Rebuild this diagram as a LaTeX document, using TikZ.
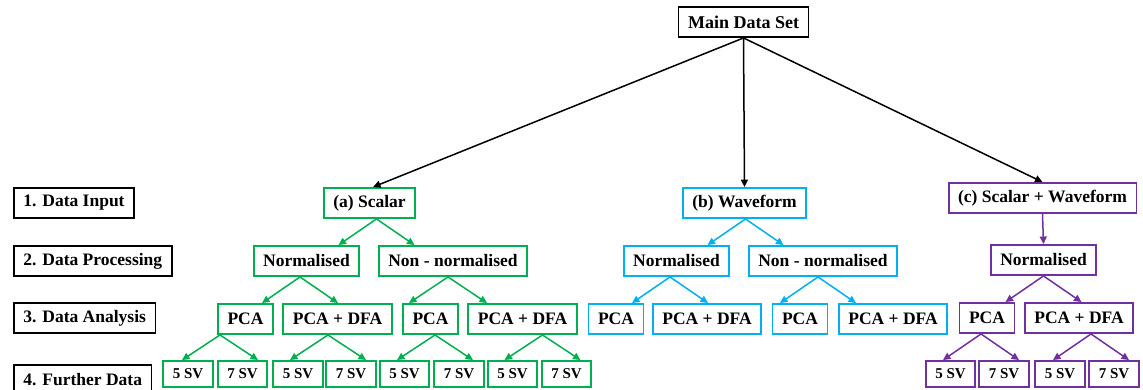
\documentclass[tikz,border=0pt]{standalone}
\usepackage{fontspec}
\setmainfont{Liberation Serif}
\usetikzlibrary{arrows.meta}

\definecolor{scalar_green}{HTML}{00B050}
\definecolor{wave_blue}{HTML}{00B0F0}
\definecolor{mixed_purple}{HTML}{7030A0}

\begin{document}
\begin{tikzpicture}[x=1pt, y=-1pt, % positions are given in pt, y grows downwards
square/.style={rectangle, draw=black, fill=white, line width=1.9pt, inner xsep=9.5pt, inner ysep=2pt, minimum height=30pt, font=\fontsize{17.5}{20}\selectfont\bfseries},
small_square/.style={square, minimum height=26pt, font=\fontsize{15}{18}\selectfont\bfseries},
label_square/.style={square, anchor=west},
a_square/.style={square, draw=scalar_green},
b_square/.style={square, draw=wave_blue},
c_square/.style={square, draw=mixed_purple},
a_small/.style={small_square, draw=scalar_green},
c_small/.style={small_square, draw=mixed_purple},
out_arrow/.style={-{Triangle[length=7.5pt,width=7pt]}, line width=1.5pt},
a_arrow/.style={out_arrow, draw=scalar_green, fill=scalar_green},
b_arrow/.style={out_arrow, draw=wave_blue, fill=wave_blue},
c_arrow/.style={out_arrow, draw=mixed_purple, fill=mixed_purple}
]

\useasboundingbox (0,0) rectangle (1143,389);

\node[square, font=\fontsize{18}{21}\selectfont\bfseries](main_data) at (743.5,22) {Main Data Set};

\node[label_square](input_label) at (13,203) {1. Data Input};
\node[label_square](processing_label) at (13,261) {2. Data Processing};
\node[label_square](analysis_label) at (13,318) {3. Data Analysis};
\node[label_square](further_label) at (13,380) {4. Further Data};

% (a) scalar branch
\node[a_square](scalar) at (369.5,203) {(a) Scalar};
\node[a_square](a_norm) at (306.5,261) {Normalised};
\node[a_square](a_non) at (453,261) {Non - normalised};
\node[a_square](a_norm_pca) at (245.5,319) {PCA};
\node[a_square](a_norm_dfa) at (337.5,319) {PCA + DFA};
\node[a_square](a_non_pca) at (430.5,319) {PCA};
\node[a_square](a_non_dfa) at (522.5,319) {PCA + DFA};
\node[a_small](a_norm_pca_5) at (188,374) {5 SV};
\node[a_small](a_norm_pca_7) at (242.5,374) {7 SV};
\node[a_small](a_norm_dfa_5) at (298,374) {5 SV};
\node[a_small](a_norm_dfa_7) at (351,374) {7 SV};
\node[a_small](a_non_pca_5) at (404.5,374) {5 SV};
\node[a_small](a_non_pca_7) at (459,374) {7 SV};
\node[a_small](a_non_dfa_5) at (512.5,374) {5 SV};
\node[a_small](a_non_dfa_7) at (566.5,374) {7 SV};

% (b) waveform branch
\node[b_square](waveform) at (744.5,203) {(b) Waveform};
\node[b_square](b_norm) at (676.5,261) {Normalised};
\node[b_square](b_non) at (823,261) {Non - normalised};
\node[b_square](b_norm_pca) at (616,319) {PCA};
\node[b_square](b_norm_dfa) at (707,319) {PCA + DFA};
\node[b_square](b_non_pca) at (800,319) {PCA};
\node[b_square](b_non_dfa) at (893,319) {PCA + DFA};

% (c) scalar + waveform branch
\node[c_square](mixed) at (1042.5,198) {(c) Scalar + Waveform};
\node[c_square](c_norm) at (1043.5,260) {Normalised};
\node[c_square](c_pca) at (987,318) {PCA};
\node[c_square](c_dfa) at (1079,318) {PCA + DFA};
\node[c_small](c_pca_5) at (950.5,374) {5 SV};
\node[c_small](c_pca_7) at (1004,374) {7 SV};
\node[c_small](c_dfa_5) at (1060,374) {5 SV};
\node[c_small](c_dfa_7) at (1114,374) {7 SV};



\draw[out_arrow, fill=black](main_data.south) to [] ([xshift=3.5pt]scalar.north);
\draw[out_arrow, fill=black](main_data.south) to [] (waveform.north);
\draw[out_arrow, fill=black](main_data.south) to [] (mixed.north);

\draw[a_arrow]([xshift=7pt]scalar.south) to [] ([xshift=32pt]a_norm.north);
\draw[a_arrow]([xshift=7pt]scalar.south) to [] ([xshift=-38.5pt]a_non.north);
\draw[a_arrow]([xshift=-6.5pt]a_norm.south) to [] ([xshift=16.5pt]a_norm_pca.north);
\draw[a_arrow]([xshift=-6.5pt]a_norm.south) to [] ([xshift=0.5pt]a_norm_dfa.north);
\draw[a_arrow]([xshift=-5pt]a_non.south) to [] ([xshift=-21.5pt]a_non_pca.north);
\draw[a_arrow]([xshift=-5pt]a_non.south) to [] ([xshift=-35.5pt]a_non_dfa.north);
\draw[a_arrow]([xshift=-25.5pt]a_norm_pca.south) to [] ([xshift=-6pt]a_norm_pca_5.north);
\draw[a_arrow]([xshift=-25.5pt]a_norm_pca.south) to [] ([xshift=15.5pt]a_norm_pca_7.north);
\draw[a_arrow]([xshift=-9.5pt]a_norm_dfa.south) to [] ([xshift=-8pt]a_norm_dfa_5.north);
\draw[a_arrow]([xshift=-9.5pt]a_norm_dfa.south) to [] ([xshift=15pt]a_norm_dfa_7.north);
\draw[a_arrow]([xshift=4.5pt]a_non_pca.south) to [] ([xshift=-7.5pt]a_non_pca_5.north);
\draw[a_arrow]([xshift=4.5pt]a_non_pca.south) to [] ([xshift=14pt]a_non_pca_7.north);
\draw[a_arrow]([xshift=20pt]a_non_dfa.south) to [] ([xshift=-8pt]a_non_dfa_5.north);
\draw[a_arrow]([xshift=20pt]a_non_dfa.south) to [] ([xshift=14pt]a_non_dfa_7.north);

\draw[b_arrow]([xshift=1pt]waveform.south) to [] ([xshift=31pt]b_norm.north);
\draw[b_arrow]([xshift=1pt]waveform.south) to [] ([xshift=-39.5pt]b_non.north);
\draw[b_arrow]([xshift=-6.5pt]b_norm.south) to [] ([xshift=16pt]b_norm_pca.north);
\draw[b_arrow]([xshift=-6.5pt]b_norm.south) to [] ([xshift=1pt]b_norm_dfa.north);
\draw[b_arrow]([xshift=-5pt]b_non.south) to [] ([xshift=-20pt]b_non_pca.north);
\draw[b_arrow]([xshift=-5pt]b_non.south) to [] ([xshift=-37pt]b_non_dfa.north);

\draw[c_arrow](mixed.south) to [] (c_norm.north);
\draw[c_arrow](c_norm.south) to [] ([xshift=18.5pt]c_pca.north);
\draw[c_arrow](c_norm.south) to [] ([xshift=2.5pt]c_dfa.north);
\draw[c_arrow]([xshift=-6pt]c_pca.south) to [] ([xshift=-7.5pt]c_pca_5.north);
\draw[c_arrow]([xshift=-6pt]c_pca.south) to [] ([xshift=15pt]c_pca_7.north);
\draw[c_arrow]([xshift=12pt]c_dfa.south) to [] ([xshift=-7pt]c_dfa_5.north);
\draw[c_arrow]([xshift=12pt]c_dfa.south) to [] ([xshift=15pt]c_dfa_7.north);
\end{tikzpicture}
\end{document}
